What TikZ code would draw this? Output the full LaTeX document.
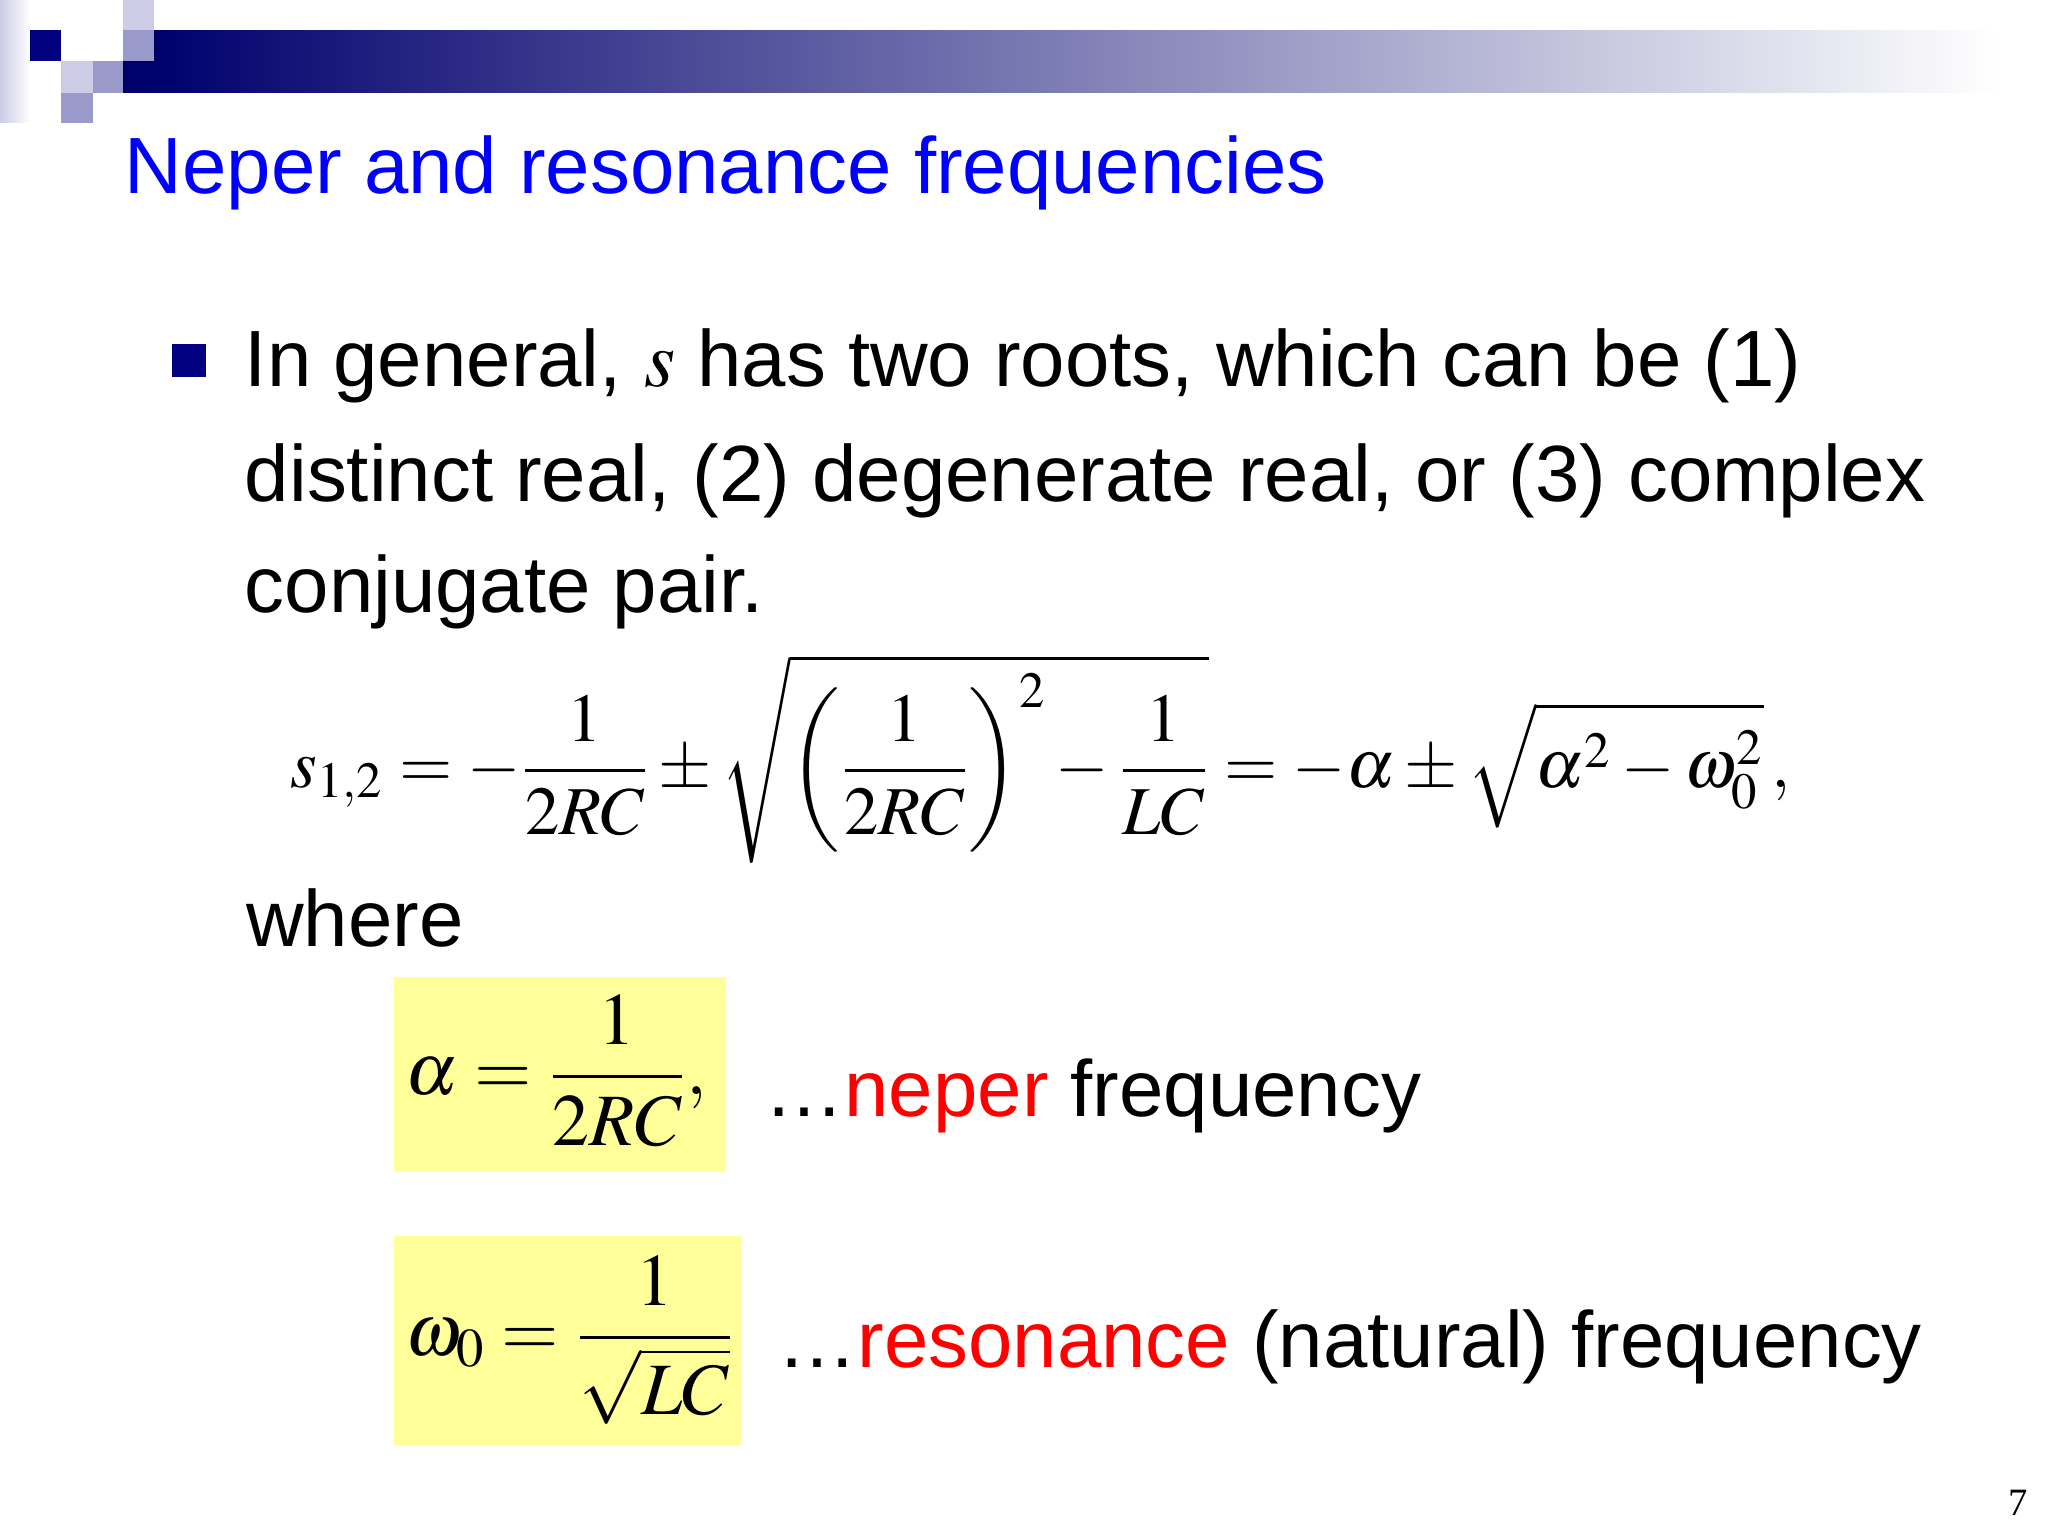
\documentclass[tikz,border=0pt]{standalone}
\usepackage{amsmath}
\usepackage{mathptmx}
\usepackage{fontspec}
\setmainfont{Liberation Sans}
\newfontfamily\serifnum{Liberation Serif}
\definecolor{navy}{RGB}{0,0,128}
\definecolor{midb}{RGB}{153,153,204}
\definecolor{lightb}{RGB}{204,204,230}
\definecolor{ttl}{RGB}{0,0,255}
\definecolor{ybox}{RGB}{255,255,153}
\tikzset{txt/.style={anchor=base west,inner sep=0pt,font=\fontsize{22.7}{28}\selectfont},
 mth/.style={anchor=base west,inner sep=0pt,font=\fontsize{19.5}{24}\selectfont},
 mthb/.style={anchor=base west,inner sep=0pt,font=\fontsize{21}{26}\selectfont},
 yb/.style={fill=ybox,draw=none}}
\begin{document}
\begin{tikzpicture}[x=0.01306cm,y=-0.01306cm]
\useasboundingbox (0,0) rectangle (1568,1176);
\shade[left color=navy!85!black,right color=white] (118,23) rectangle (1530,71);
\shade[left color=lightb,right color=white] (0,0) rectangle (23,94);
\fill[navy] (23,23) rectangle (47,47);
\fill[lightb] (47,47) rectangle (71,71);
\fill[midb] (71,47) rectangle (94,71);
\fill[lightb] (94,0) rectangle (118,23);
\fill[midb] (94,23) rectangle (118,47);
\fill[navy!85!black] (94,47) rectangle (118,71);
\fill[midb] (47,71) rectangle (71,94);
\node[txt,text=ttl] (title) at (95,148) {Neper and resonance frequencies};
\fill[navy] (132,263) rectangle (158,289);
\node[txt] (l1) at (187,296) {In general, $s$ has two roots, which can be (1)};
\node[txt] (l2) at (187,384) {distinct real, (2) degenerate real, or (3) complex};
\node[txt] (l3) at (187,469) {conjugate pair.};
\node[mth] (eq) at (222,603) {$s_{1,2}=-\dfrac{1}{2RC}\pm\sqrt{\left(\dfrac{1}{2RC}\right)^{2}-\dfrac{1}{LC}}=-\alpha\pm\sqrt{\alpha^{2}-\omega_0^{2}}\,,$};
\node[txt] (where) at (188,725) {where};
\fill[yb] (302,748) rectangle (556,897);
\node[mthb] (alpha) at (310,838) {$\alpha=\dfrac{1}{2RC},$};
\node[txt] (nep) at (585,855) {\ldots\textcolor{red}{neper} frequency};
\fill[yb] (302,946) rectangle (567,1106);
\node[mthb] (omega) at (310,1038) {$\omega_0=\dfrac{1}{\sqrt{LC}}$};
\node[txt] (res) at (595,1047) {\ldots\textcolor{red}{resonance} (natural) frequency};
\node[anchor=base east,inner sep=0pt,font=\serifnum\fontsize{11}{13}\selectfont] (pg) at (1553,1160) {7};
\end{tikzpicture}
\end{document}
